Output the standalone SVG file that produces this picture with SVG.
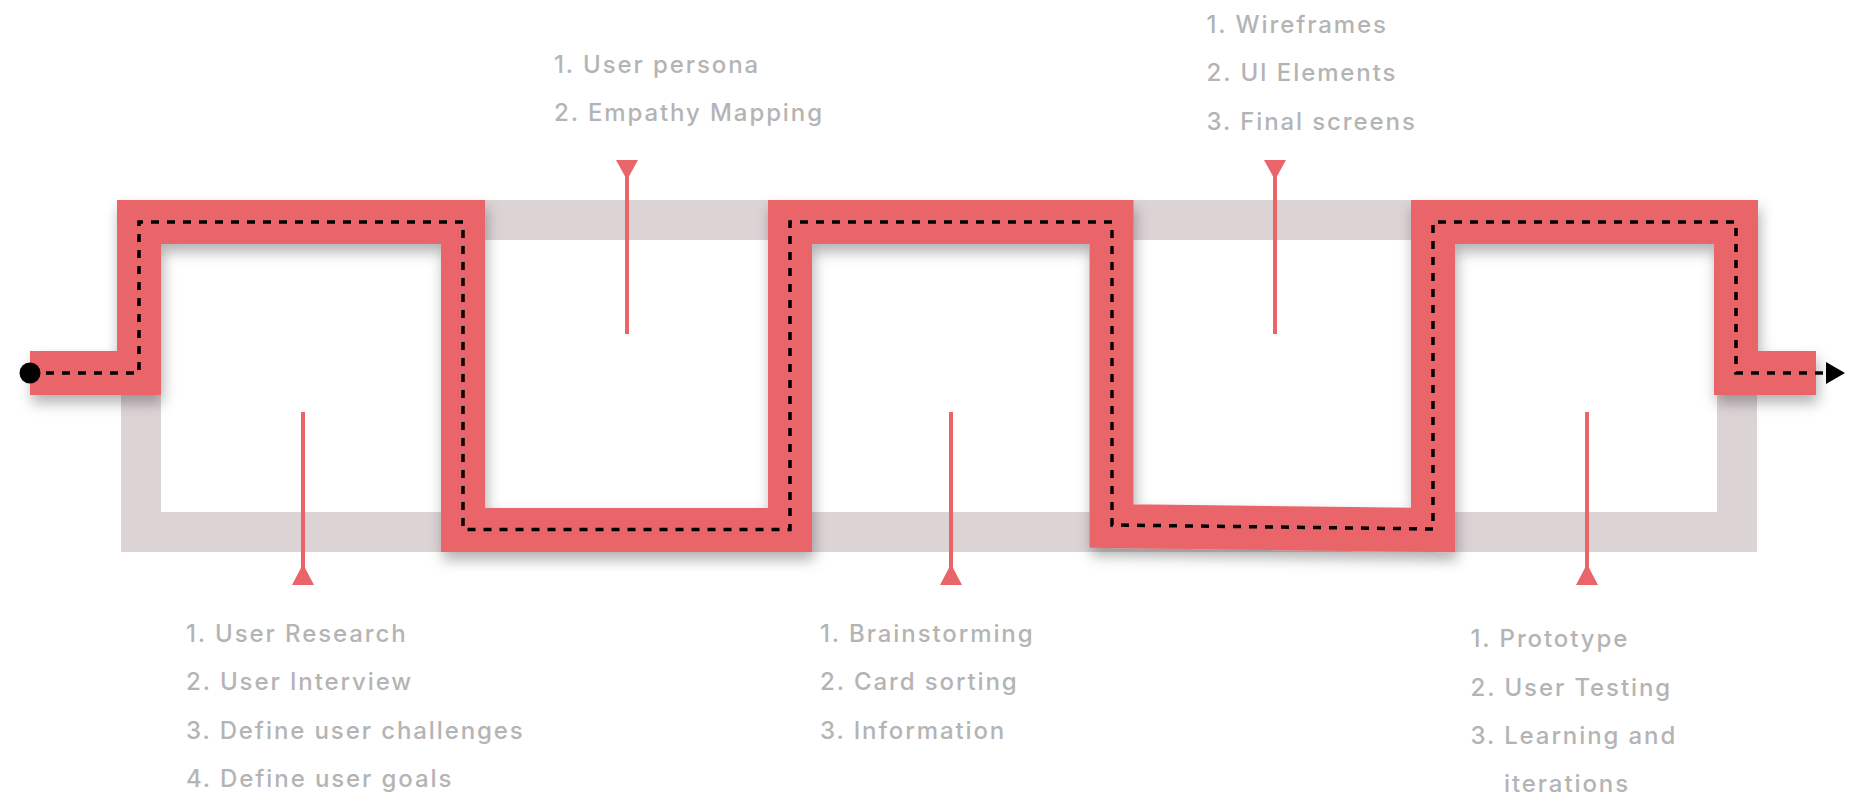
<svg xmlns="http://www.w3.org/2000/svg" width="1864" height="806" viewBox="0 0 1864 806">
  <style>
    .lbl { font-family: Inter, "Liberation Sans", sans-serif; font-size: 24px; font-weight: 500; letter-spacing: 1.9px; fill: #b4b4b4; }
    .track { fill: none; stroke: #dcd3d5; stroke-width: 40; }
    .route { fill: none; stroke: #ea656a; stroke-width: 44; stroke-linejoin: miter; stroke-linecap: butt; }
    .dash { fill: none; stroke: #000; stroke-width: 3.5; stroke-dasharray: 8 8; }
    .ptr { stroke: #ea656a; stroke-width: 4; fill: none; }
    .tri { fill: #ea656a; }
  </style>
  <defs>
    <filter id="shadow" x="-5%" y="-20%" width="110%" height="150%">
      <feDropShadow dx="2" dy="8" stdDeviation="7" flood-color="#000" flood-opacity="0.3"/>
    </filter>
    <marker id="arrow" markerUnits="userSpaceOnUse" markerWidth="20" markerHeight="24" refX="0" refY="11" orient="auto">
      <path d="M0,0 L19,11 L0,22 z" fill="#000"/>
    </marker>
  </defs>

  <rect width="1864" height="806" fill="#fff"/>

  <g id="connectors">
    <rect class="track" x="141" y="220" width="1596" height="312"/>
    <path class="route" filter="url(#shadow)" d="M30 373 H139 V222 H463 V530 H790 V222 H1111.5 V526 L1433 530 V222 H1736 V373 H1816"/>
    <path class="dash" marker-end="url(#arrow)" d="M30 373 H139 V222 H463 V529.5 H790 V222 H1112 V525 L1433 529 V222 H1736 V373 H1826"/>
    <circle cx="30" cy="373" r="10.5" fill="#000"/>

    <line class="ptr" x1="303" y1="412" x2="303" y2="570"/>
    <polygon class="tri" points="303,564 314,585 292,585"/>

    <line class="ptr" x1="627" y1="175" x2="627" y2="334"/>
    <polygon class="tri" points="616,160 638,160 627,180"/>

    <line class="ptr" x1="951" y1="412" x2="951" y2="570"/>
    <polygon class="tri" points="951,564 962,585 940,585"/>

    <line class="ptr" x1="1275" y1="175" x2="1275" y2="334"/>
    <polygon class="tri" points="1264,160 1286,160 1275,180"/>

    <line class="ptr" x1="1587" y1="412" x2="1587" y2="570"/>
    <polygon class="tri" points="1587,564 1598,585 1576,585"/>
  </g>

  <g id="stage-research">
    <text class="lbl" x="186" y="641.5">1. User Research</text>
    <text class="lbl" x="186" y="690">2. User Interview</text>
    <text class="lbl" x="186" y="738.5">3. Define user challenges</text>
    <text class="lbl" x="186" y="787">4. Define user goals</text>
  </g>

  <g id="stage-persona">
    <text class="lbl" x="554" y="72.5">1. User persona</text>
    <text class="lbl" x="554" y="121">2. Empathy Mapping</text>
  </g>

  <g id="stage-ideate">
    <text class="lbl" x="820" y="641.5">1. Brainstorming</text>
    <text class="lbl" x="820" y="690">2. Card sorting</text>
    <text class="lbl" x="820" y="738.5">3. Information</text>
  </g>

  <g id="stage-design">
    <text class="lbl" x="1206.5" y="32.5">1. Wireframes</text>
    <text class="lbl" x="1206.5" y="81">2. UI Elements</text>
    <text class="lbl" x="1206.5" y="129.5">3. Final screens</text>
  </g>

  <g id="stage-test">
    <text class="lbl" x="1470.5" y="647">1. Prototype</text>
    <text class="lbl" x="1470.5" y="695.5">2. User Testing</text>
    <text class="lbl" x="1470.5" y="744">3. Learning and</text>
    <text class="lbl" x="1504" y="792">iterations</text>
  </g>
</svg>
